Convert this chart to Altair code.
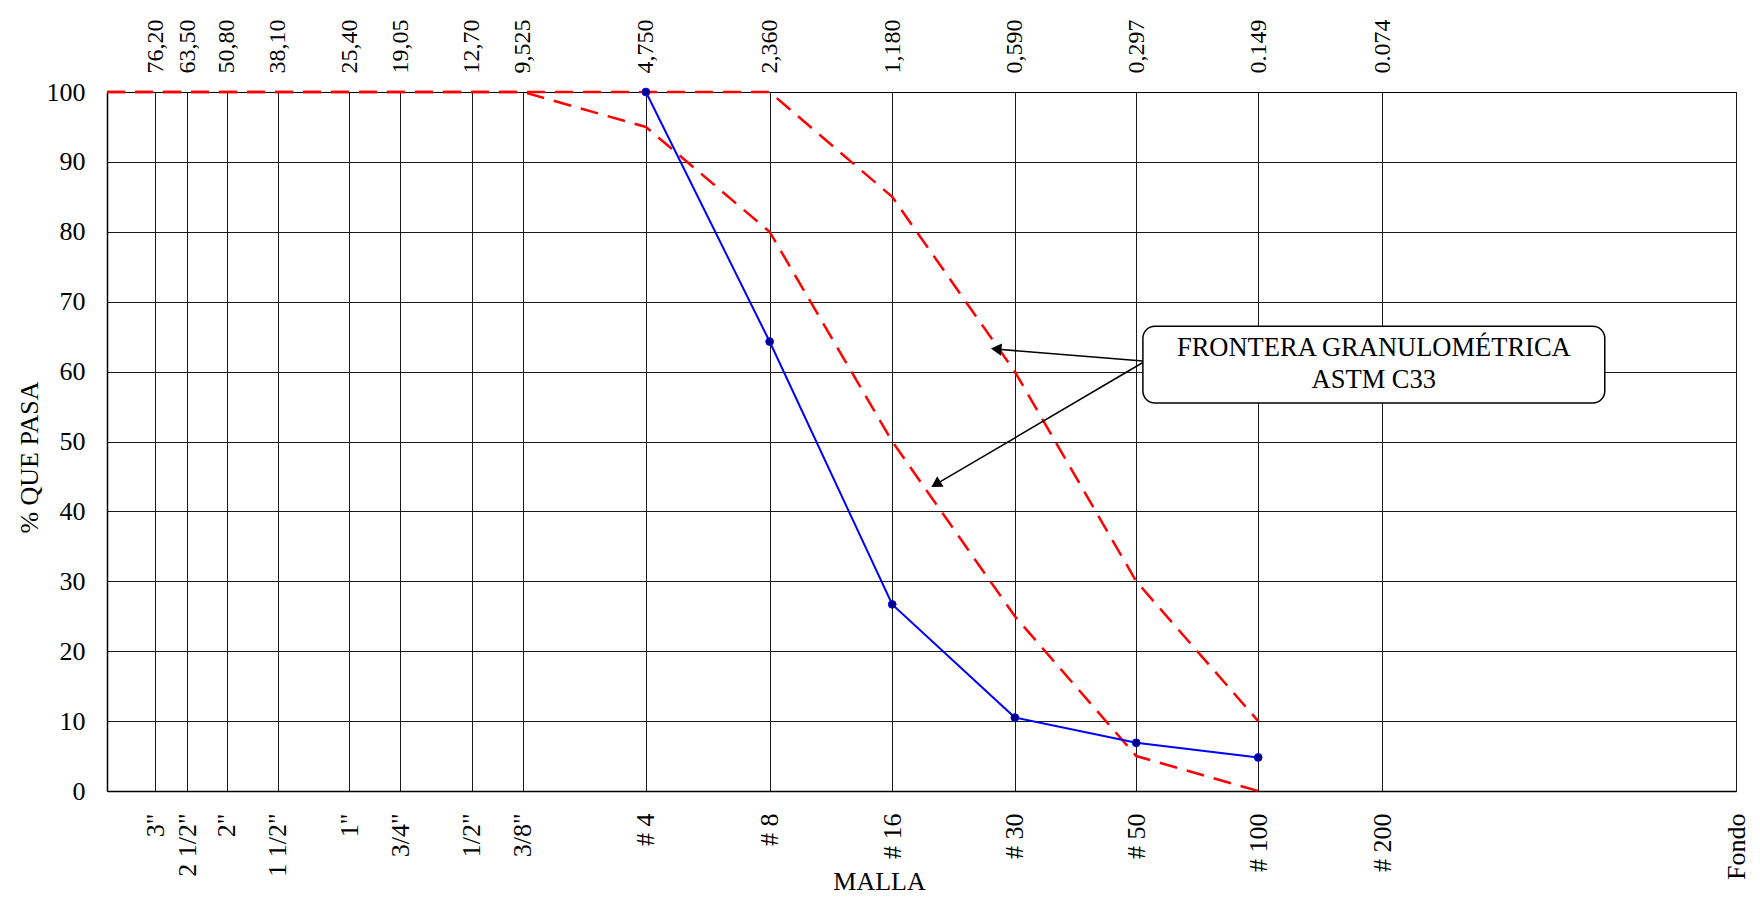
import altair as alt
import pandas as pd

FONT = "Liberation Serif"

# ---- sieve axis data ----
sizes_mm = [76.2, 63.5, 50.8, 38.1, 25.4, 19.05, 12.7, 9.525, 4.75, 2.36, 1.18, 0.59, 0.297, 0.149, 0.074]
size_labels = ["76,20", "63,50", "50,80", "38,10", "25,40", "19,05", "12,70", "9,525",
               "4,750", "2,360", "1,180", "0,590", "0,297", "0.149", "0.074"]
sieve_values = sizes_mm + [0.01]
sieve_names = ['3"', '2 1/2"', '2"', '1 1/2"', '1"', '3/4"', '1/2"', '3/8"',
               '# 4', '# 8', '# 16', '# 30', '# 50', '# 100', '# 200', 'Fondo']
pct_ticks = [0, 10, 20, 30, 40, 50, 60, 70, 80, 90, 100]

# ---- series ----
sample_size = [4.75, 2.36, 1.18, 0.59, 0.297, 0.149]
sample_pass = [100, 64.3, 26.7, 10.5, 6.9, 4.8]

upper_size = [100, 2.36, 1.18, 0.59, 0.297, 0.149]
upper_pass = [100, 100, 85, 60, 30, 10]

lower_size = [100, 9.525, 4.75, 2.36, 1.18, 0.59, 0.297, 0.149]
lower_pass = [100, 100, 95, 80, 50, 25, 5, 0]

# ---- annotation ----
box_text = "FRONTERA GRANULOMÉTRICA\nASTM C33"
box_x = [0.286, 0.021]
box_y = [55.5, 66.5]
arrow_from_x = [0.286, 0.286]
arrow_from_y = [61.5, 61.3]
arrow_to_x = [0.649, 0.914]
arrow_to_y = [63.2, 44.0]
arrow_angle = [275, 239]

sample_df = pd.DataFrame({"size": sample_size, "pass": sample_pass})
red_df = pd.concat([
    pd.DataFrame({"size": upper_size, "pass": upper_pass, "series": "sup"}),
    pd.DataFrame({"size": lower_size, "pass": lower_pass, "series": "inf"}),
])
box_df = pd.DataFrame({"x1": [box_x[0]], "x2": [box_x[1]], "y1": [box_y[0]], "y2": [box_y[1]],
                       "cx": [(box_x[0] * box_x[1]) ** 0.5], "cy": [(box_y[0] + box_y[1]) / 2],
                       "label": [box_text]})
arrow_df = pd.DataFrame({"x1": arrow_from_x, "y1": arrow_from_y, "x2": arrow_to_x,
                         "y2": arrow_to_y, "angle": arrow_angle})


def label_expr(values, labels):
    expr = "''"
    for v, l in reversed(list(zip(values, labels))):
        expr = f"abs(datum.value - {v}) < {v * 1e-6} ? '{l}' : ({expr})"
    return expr


x_scale = alt.Scale(type="log", domain=[0.01, 100], reverse=True, nice=False)
y_scale = alt.Scale(domain=[0, 100], nice=False)

GRID = "#1a1a1a"

bottom_axis = alt.Axis(
    orient="bottom", values=sieve_values, labelExpr=label_expr(sieve_values, sieve_names),
    labelAngle=-90, labelPadding=22, ticks=False, grid=True, gridColor=GRID, gridWidth=1,
    domainColor="black", domainWidth=1.5, labelFont=FONT, labelFontSize=26, labelColor="black",
    labelOverlap=False, labelFlush=False, labelBound=False,
    title="MALLA", titleFont=FONT, titleFontSize=26, titleFontWeight="normal", titleColor="black",
    titleX=772, titleY=90, titleBaseline="middle", titleAlign="center",
)
top_axis = alt.Axis(
    orient="top", values=sizes_mm, labelExpr=label_expr(sizes_mm, size_labels),
    labelAngle=-90, labelPadding=19, ticks=False, grid=False,
    domainColor="black", domainWidth=1, labelFont=FONT, labelFontSize=24, labelColor="black",
    labelOverlap=False, labelFlush=False, labelBound=False, title=None,
)
y_axis = alt.Axis(
    values=pct_ticks, ticks=False, grid=True, gridColor=GRID, gridWidth=1,
    domainColor="black", domainWidth=1.5, labelFont=FONT, labelFontSize=26, labelColor="black",
    labelPadding=22, title="% QUE PASA", titleFont=FONT, titleFontSize=26,
    titleFontWeight="normal", titleColor="black", titleAngle=270, titleX=-78, titleY=365,
    titleBaseline="middle", titleAlign="center",
)

red = alt.Chart(red_df).mark_line(color="#FF0000", strokeDash=[18, 10], strokeWidth=2.5).encode(
    x=alt.X("size:Q", scale=x_scale, axis=top_axis),
    y=alt.Y("pass:Q", scale=y_scale, axis=y_axis),
    detail="series:N",
)
blue = alt.Chart(sample_df).mark_line(color="#0000FF", strokeWidth=2).encode(
    x=alt.X("size:Q", scale=x_scale, axis=bottom_axis),
    y=alt.Y("pass:Q", scale=y_scale, axis=y_axis),
)
pts = alt.Chart(sample_df).mark_point(filled=True, size=60, color="#000080", stroke="#0000FF",
                                      strokeWidth=1, opacity=1).encode(
    x=alt.X("size:Q", scale=x_scale, axis=None),
    y=alt.Y("pass:Q", scale=y_scale, axis=y_axis),
)
rules = alt.Chart(arrow_df).mark_rule(color="black", strokeWidth=1.5).encode(
    x=alt.X("x1:Q", scale=x_scale, axis=None), x2="x2:Q",
    y=alt.Y("y1:Q", scale=y_scale, axis=y_axis), y2="y2:Q",
)
heads = alt.Chart(arrow_df).mark_point(shape="triangle", filled=True, color="black", size=150,
                                       opacity=1).encode(
    x=alt.X("x2:Q", scale=x_scale, axis=None),
    y=alt.Y("y2:Q", scale=y_scale, axis=y_axis),
    angle=alt.Angle("angle:Q", scale=None),
)
box = alt.Chart(box_df).mark_rect(fill="white", stroke="black", strokeWidth=1.5, cornerRadius=12).encode(
    x=alt.X("x1:Q", scale=x_scale, axis=None), x2="x2:Q",
    y=alt.Y("y1:Q", scale=y_scale, axis=y_axis), y2="y2:Q",
)
box_label = alt.Chart(box_df).mark_text(font=FONT, fontSize=26.5, lineBreak="\n", lineHeight=32,
                                        color="black", align="center", baseline="middle",
                                        dy=-17).encode(
    x=alt.X("cx:Q", scale=x_scale, axis=None),
    y=alt.Y("cy:Q", scale=y_scale, axis=y_axis),
    text="label:N",
)

chart = alt.layer(red, blue, pts, rules, heads, box, box_label).resolve_axis(
    x="independent"
).properties(
    width=1629, height=699,
    autosize=alt.AutoSizeParams(type="none"),
    padding={"left": 99, "top": 84, "right": 16, "bottom": 106},
    background="white",
).configure_view(stroke=None)

chart.save("out.html", embed_options={"renderer": "svg", "actions": False})
